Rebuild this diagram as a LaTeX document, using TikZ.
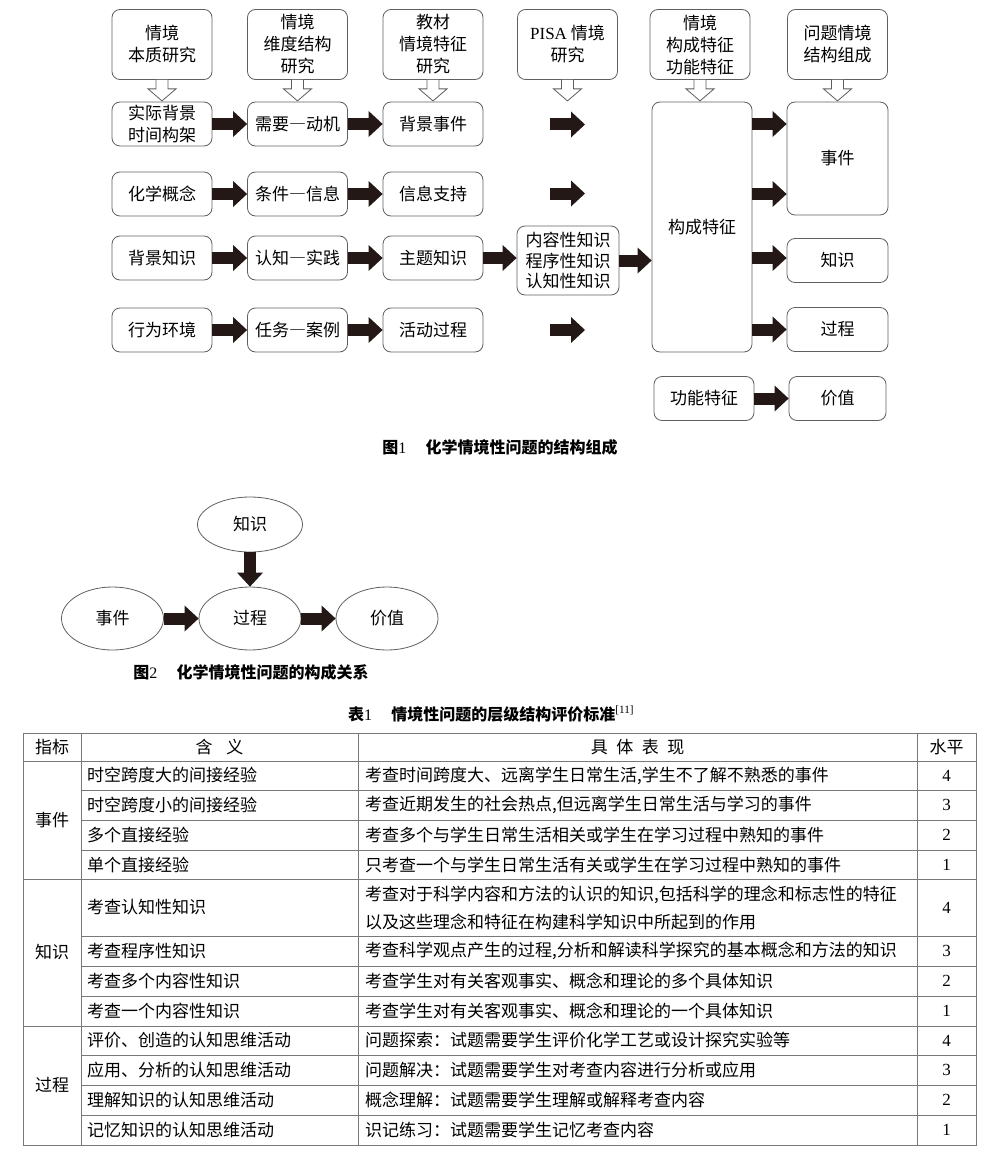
\documentclass[tikz,border=0pt]{standalone}
\usepackage{fontspec}
\setmainfont{Noto Sans CJK SC}
\newfontfamily\latin{Liberation Serif}
\usepackage{xcolor}
\usetikzlibrary{arrows.meta,shapes.geometric,positioning}
\definecolor{boxgray}{RGB}{95,95,95}
\definecolor{ink}{RGB}{35,24,21}
\definecolor{rulegray}{RGB}{120,120,120}

\begin{document}
\begin{tikzpicture}[x=1pt,y=-1pt,
    box/.style={draw=boxgray,line width=0.8pt,rounded corners=8pt,align=center,inner sep=0pt,font=\fontsize{17}{22}\selectfont},
    topbox/.style={box,minimum width=100pt,minimum height=70pt},
    rowbox/.style={box,minimum width=100pt,minimum height=44pt},
    blob/.style={draw=boxgray,line width=0.8pt,ellipse,inner sep=0pt,minimum width=102pt,minimum height=63pt,font=\fontsize{17}{20}\selectfont},
    blk/.style={draw=ink,line width=12pt,-{Triangle[length=14pt,width=26pt,line width=0pt]}},
    cell/.style={anchor=west,inner sep=0pt,align=left,font=\fontsize{17}{28}\selectfont},
    mid/.style={inner sep=0pt,font=\fontsize{17}{28}\selectfont},
    rule/.style={draw=rulegray,line width=0.8pt},
    figcap/.style={inner sep=0pt,font=\fontsize{16}{18}\selectfont\bfseries},
    hollow/.pic={\draw[boxgray,line width=0.8pt,fill=white] (-6,0) -- (-6,9) -- (-14,9) -- (0,21) -- (14,9) -- (6,9) -- (6,0);}
]
        \useasboundingbox (0,0) rectangle (1000,1153);

        % Figure 1: research boxes
        \node[topbox] (s1) at (162,44.5) {情境\\本质研究};
        \node[topbox] (s2) at (297.5,44.5) {情境\\维度结构\\研究};
        \node[topbox] (s3) at (433,44.5) {教材\\情境特征\\研究};
        \node[topbox] (s4) at (567.5,44.5) {{\latin PISA} 情境\\研究};
        \node[topbox] (s5) at (700,44.5) {情境\\构成特征\\功能特征};
        \node[topbox] (s6) at (837.5,44.5) {问题情境\\结构组成};

        \pic at (s1.south) {hollow};
        \pic at (s2.south) {hollow};
        \pic at (s3.south) {hollow};
        \pic at (s4.south) {hollow};
        \pic at (s5.south) {hollow};
        \pic at (s6.south) {hollow};

        % four rows of three boxes
        \node[rowbox] (a1) at (162,124) {实际背景\\时间构架};
        \node[rowbox] (b1) at (297.5,124) {需要―动机};
        \node[rowbox] (c1) at (433,124) {背景事件};
        \node[rowbox] (a2) at (162,194) {化学概念};
        \node[rowbox] (b2) at (297.5,194) {条件―信息};
        \node[rowbox] (c2) at (433,194) {信息支持};
        \node[rowbox] (a3) at (162,258) {背景知识};
        \node[rowbox] (b3) at (297.5,258) {认知―实践};
        \node[rowbox] (c3) at (433,258) {主题知识};
        \node[rowbox] (a4) at (162,330) {行为环境};
        \node[rowbox] (b4) at (297.5,330) {任务―案例};
        \node[rowbox] (c4) at (433,330) {活动过程};

        \node[box,minimum width=102pt,minimum height=69pt,font=\fontsize{17}{20.5}\selectfont] (kt) at (568,260.5) {内容性知识\\程序性知识\\认知性知识};
        \node[box,minimum width=100pt,minimum height=250pt] (gc) at (702,227) {构成特征};
        \node[box,minimum width=101pt,minimum height=113pt] (ev) at (837.5,158.5) {事件};
        \node[rowbox,minimum width=101pt] (kn) at (837.5,260.5) {知识};
        \node[rowbox,minimum width=101pt] (pr) at (837.5,329.5) {过程};
        \node[rowbox] (gn) at (704,398.5) {功能特征};
        \node[rowbox,minimum width=97pt] (va) at (837.5,398.5) {价值};

        \coordinate (p1) at (550,124.5); \coordinate (q1) at (585,124.5);
        \coordinate (p2) at (550,193.5); \coordinate (q2) at (585,193.5);
        \coordinate (p4) at (550,330);   \coordinate (q4) at (585,330);

        % black arrows
        \draw[blk] (a1) -- (b1);
        \draw[blk] (b1) -- (c1);
        \draw[blk] (a2) -- (b2);
        \draw[blk] (b2) -- (c2);
        \draw[blk] (a3) -- (b3);
        \draw[blk] (b3) -- (c3);
        \draw[blk] (a4) -- (b4);
        \draw[blk] (b4) -- (c4);
        \draw[blk] (p1) -- (q1);
        \draw[blk] (p2) -- (q2);
        \draw[blk] (p4) -- (q4);
        \draw[blk] (c3.east) -- (c3.east -| kt.west);
        \draw[blk] (kt.east) -- (kt.east -| gc.west);
        \draw[blk] (gc.east |- a1) -- (ev.west |- a1);
        \draw[blk] (gc.east |- a2) -- (ev.west |- a2);
        \draw[blk] (gc.east |- c3) -- (kn.west |- c3);
        \draw[blk] (gc.east |- pr) -- (pr.west);
        \draw[blk] (gn) -- (va);

        \node[figcap] (f1) at (500,447) {图{\latin\mdseries 1}\hspace{1.2em}化学情境性问题的结构组成};

        % Figure 2
        \node[blob,minimum width=105pt,minimum height=55pt] (zs) at (250,524.5) {知识};
        \node[blob] (sj) at (112.5,618.5) {事件};
        \node[blob] (gc2) at (250,618.5) {过程};
        \node[blob] (jz) at (387,618.5) {价值};
        \draw[blk] (sj) -- (gc2);
        \draw[blk] (gc2) -- (jz);
        \draw[blk] (zs) -- (gc2);

        \node[figcap] (f2) at (251,672) {图{\latin\mdseries 2}\hspace{1.2em}化学情境性问题的构成关系};

        % Table 1
        \node[figcap,anchor=west] (t1) at (348,714) {表{\latin\mdseries 1}\hspace{1.2em}情境性问题的层级结构评价标准\textsuperscript{\latin\mdseries[11]}};

        \draw[rule] (23,733) rectangle (976,1145);
        \draw[rule] (81,733) -- (81,1145);
        \draw[rule] (358,733) -- (358,1145);
        \draw[rule] (917,733) -- (917,1145);
        \foreach \y in {761,879,1026}
            \draw[rule] (23,\y) -- (976,\y);
        \foreach \y in {790,820,850,936,966,996,1055,1085,1115}
            \draw[rule] (81,\y) -- (976,\y);

        \node[mid] (hz) at (52,747) {指标};
        \node[mid] (hh) at (219.5,747) {含\hspace{0.8em}义};
        \node[mid] (hb) at (637.5,747) {具\hspace{0.5em}体\hspace{0.5em}表\hspace{0.5em}现};
        \node[mid] (hs) at (946.5,747) {水平};

        \node[mid] (g1) at (52,820) {事件};
        \node[mid] (g2) at (52,952.5) {知识};
        \node[mid] (g3) at (52,1085.5) {过程};

        \foreach \y/\ha/\jt/\lv [count=\i] in {
            775.5/{时空跨度大的间接经验}/{考查时间跨度大、远离学生日常生活,学生不了解不熟悉的事件}/4,
            805/{时空跨度小的间接经验}/{考查近期发生的社会热点,但远离学生日常生活与学习的事件}/3,
            835/{多个直接经验}/{考查多个与学生日常生活相关或学生在学习过程中熟知的事件}/2,
            864.5/{单个直接经验}/{只考查一个与学生日常生活有关或学生在学习过程中熟知的事件}/1,
            907.5/{考查认知性知识}/{考查对于科学内容和方法的认识的知识,包括科学的理念和标志性的特征\\以及这些理念和特征在构建科学知识中所起到的作用}/4,
            951/{考查程序性知识}/{考查科学观点产生的过程,分析和解读科学探究的基本概念和方法的知识}/3,
            981/{考查多个内容性知识}/{考查学生对有关客观事实、概念和理论的多个具体知识}/2,
            1011/{考查一个内容性知识}/{考查学生对有关客观事实、概念和理论的一个具体知识}/1,
            1040.5/{评价、创造的认知思维活动}/{问题探索：试题需要学生评价化学工艺或设计探究实验等}/4,
            1070/{应用、分析的认知思维活动}/{问题解决：试题需要学生对考查内容进行分析或应用}/3,
            1100/{理解知识的认知思维活动}/{概念理解：试题需要学生理解或解释考查内容}/2,
            1130/{记忆知识的认知思维活动}/{识记练习：试题需要学生记忆考查内容}/1}
        {
            \node[cell] (m\i) at (87,\y) {\ha};
            \node[cell] (d\i) at (365,\y) {\jt};
            \node[mid] (n\i) at (946.5,\y) {\latin\lv};
        }
\end{tikzpicture}
\end{document}
